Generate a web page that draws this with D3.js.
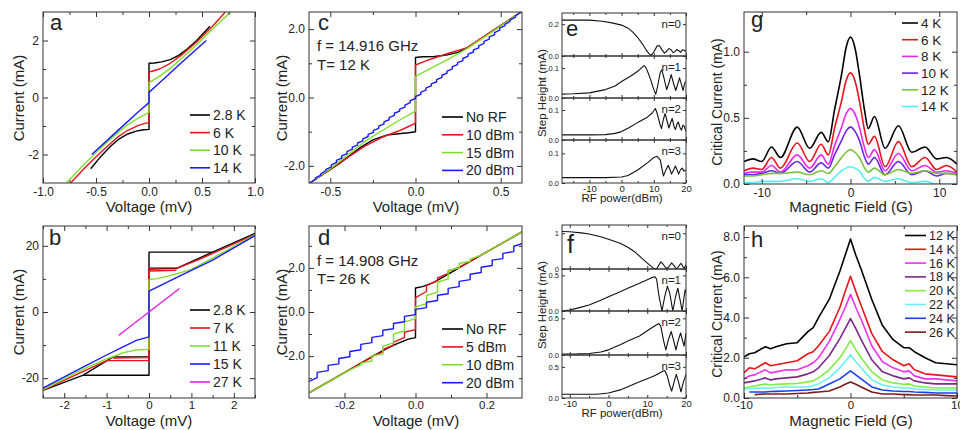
<!DOCTYPE html>
<html>
<head>
<meta charset="utf-8">
<script src="https://cdn.jsdelivr.net/npm/d3@7"></script>
<style>
body { margin: 0; background: #fff; }
svg text { font-family: Arial, "Liberation Sans", Helvetica, sans-serif; fill: #222; }
</style>
</head>
<body>
<svg id="chart" width="960" height="430"></svg>
<script>
// ---------- panel a : I-V at several temperatures (mV, mA) ----------
var aNames = ["2.8 K", "6 K", "10 K", "14 K"];
var aK28 = [[-0.55,-2.5],[-0.45,-2.05],[-0.36,-1.7],[-0.28,-1.45],[-0.2,-1.28],[-0.12,-1.18],[-0.05,-1.13],[0,-1.12],
            [0,1.2],[0.05,1.21],[0.12,1.25],[0.2,1.33],[0.28,1.48],[0.36,1.7],[0.45,2.0],[0.575,2.5]];
var aK6  = [[-0.74,-3],[-0.6,-2.45],[-0.45,-1.9],[-0.3,-1.4],[-0.2,-1.15],[-0.1,-0.98],[-0.03,-0.9],[0,-0.88],
            [0,0.9],[0.03,0.92],[0.1,1.0],[0.2,1.2],[0.3,1.47],[0.45,1.95],[0.6,2.5],[0.72,3]];
var aK10 = [[-0.78,-3],[-0.6,-2.3],[-0.45,-1.75],[-0.3,-1.25],[-0.2,-0.95],[-0.1,-0.72],[0,-0.52],
            [0,0.52],[0.1,0.75],[0.2,1.02],[0.3,1.35],[0.45,1.85],[0.6,2.4],[0.77,3]];
var aK14 = [[-0.54,-2],[-0.3,-1.18],[-0.1,-0.5],[0,-0.18],[0,0.18],[0.1,0.52],[0.3,1.2],[0.54,2]];
var aXTicks = [-1, -0.5, 0, 0.5, 1], aXLabels = ["-1.0", "-0.5", "0.0", "0.5", "1.0"];
var aYTicks = [-2, 0, 2], aYLabels = ["-2", "0", "2"];

// ---------- panel b ----------
var bNames = ["2.8 K", "7 K", "11 K", "15 K", "27 K"];
var bK28  = [[-2.5,-23.7],[-1.55,-19.1],[0,-19.1],[0,18.1],[1.5,18.1],[2.5,23.8]];
var bK28r = [[1.5,18.1],[0.65,13.2],[0,13],[0,-13.5],[-0.85,-13.6],[-1.55,-19.1]];
var bK7   = [[-2.5,-23.6],[-1.0,-14.7],[0,-14.7],[0,13.3],[0.7,13.4],[1.2,16],[2.5,23.4]];
var bK7r  = [[0.65,12.6],[0,12.4],[0,-13.8],[-0.85,-13.9]];
var bK11  = [[-2.5,-23.5],[-1.5,-17],[-1,-14.2],[-0.6,-12.3],[-0.3,-11.5],[0,-11.3],
             [0,9.8],[0.2,10.1],[0.5,11],[1,12.9],[1.5,16.3],[2.5,23.3]];
var bK15  = [[-2.5,-23],[-1.5,-16.3],[-1,-13],[-0.6,-10.5],[-0.3,-8.6],[0,-7.5],
             [0,6.3],[0.3,8.2],[0.73,10.9],[1.5,15.7],[2.5,23.1]];
var bK27  = [[-0.72,-7.1],[0.72,7.1]];
var bXTicks = [-2, -1, 0, 1, 2], bXLabels = ["-2", "-1", "0", "1", "2"];
var bYTicks = [-20, 0, 20], bYLabels = ["-20", "0", "20"];

// ---------- panel c : RF, f = 14.916 GHz, T = 12 K ----------
var cNames = ["No RF", "10 dBm", "15 dBm", "20 dBm"];
var cNoRF = [[-0.62,-2.5],[-0.45,-1.94],[-0.32,-1.45],[-0.25,-1.24],[-0.17,-1.1],[-0.1,-1.06],[-0.04,-1.03],[0,-1.0],
             [0,1.17],[0.04,1.19],[0.11,1.2],[0.18,1.24],[0.25,1.32],[0.32,1.5],[0.45,1.94],[0.62,2.5]];
var c10 = [[-0.62,-2.5],[-0.45,-1.93],[-0.3,-1.43],[-0.2,-1.17],[-0.1,-0.98],[-0.05,-0.87],[0,-0.75],
           [0,0.95],[0.05,1.05],[0.1,1.14],[0.2,1.3],[0.3,1.45],[0.45,1.94],[0.62,2.5]];
var c15 = [[-0.62,-2.5],[-0.5,-2.08],[-0.4,-1.68],[-0.3,-1.3],[-0.2,-0.98],[-0.1,-0.68],[0,-0.4],
           [0,0.62],[0.1,0.88],[0.2,1.14],[0.3,1.42],[0.45,1.92],[0.62,2.5]];
// 20 dBm Shapiro staircase: [voltage, current at foot of step, current at top of step]
var c20Start = [-0.62, -2.5], c20End = [0.62, 2.5];
var c20Steps = [
  [-0.587,-2.39,-2.35],[-0.556,-2.27,-2.23],[-0.525,-2.14,-2.10],[-0.494,-2.03,-1.97],[-0.464,-1.90,-1.84],
  [-0.433,-1.77,-1.71],[-0.402,-1.64,-1.58],[-0.371,-1.51,-1.45],[-0.340,-1.39,-1.33],[-0.309,-1.27,-1.21],
  [-0.278,-1.14,-1.08],[-0.247,-1.02,-0.96],[-0.216,-0.90,-0.84],[-0.185,-0.77,-0.71],[-0.155,-0.65,-0.59],
  [-0.124,-0.52,-0.46],[-0.093,-0.40,-0.34],[-0.062,-0.28,-0.22],[-0.031,-0.15,-0.09],[0,-0.03,0.03],
  [0.031,0.09,0.15],[0.062,0.22,0.28],[0.093,0.34,0.40],[0.124,0.46,0.52],[0.155,0.59,0.65],
  [0.185,0.71,0.77],[0.216,0.84,0.90],[0.247,0.96,1.02],[0.278,1.08,1.14],[0.309,1.21,1.27],
  [0.340,1.33,1.39],[0.371,1.45,1.51],[0.402,1.58,1.64],[0.433,1.71,1.77],[0.464,1.84,1.90],
  [0.494,1.97,2.03],[0.525,2.10,2.14],[0.556,2.23,2.27],[0.587,2.35,2.39]];
var cXTicks = [-0.5, 0, 0.5], cXLabels = ["-0.5", "0.0", "0.5"];
var cYTicks = [-2, 0, 2], cYLabels = ["-2.0", "0.0", "2.0"];

// ---------- panel d : RF, f = 14.908 GHz, T = 26 K ----------
var dNames = ["No RF", "5 dBm", "10 dBm", "20 dBm"];
var dNoRF = [[-0.3,-3.67],[-0.2,-2.75],[-0.12,-2.0],[-0.08,-1.65],[-0.05,-1.42],[-0.02,-1.23],[0,-1.16],
             [0,1.09],[0.02,1.15],[0.05,1.33],[0.08,1.6],[0.12,1.98],[0.2,2.72],[0.3,3.63]];
var d5 = [[-0.3,-3.67],[-0.123,-2.05],[-0.123,-2.0],[-0.092,-1.82],[-0.092,-1.7],[-0.062,-1.5],[-0.062,-1.38],
          [-0.031,-1.15],[-0.031,-0.92],[0,-0.8],[0,0.65],[0.031,0.93],[0.031,1.2],[0.062,1.42],[0.062,1.55],
          [0.092,1.75],[0.092,1.85],[0.123,2.02],[0.3,3.63]];
var d10 = [[-0.3,-3.67],[-0.185,-2.62],[-0.154,-2.4],[-0.154,-2.32],[-0.123,-2.22],[-0.123,-2.0],[-0.092,-1.9],
           [-0.092,-1.55],[-0.062,-1.4],[-0.062,-1.0],[-0.031,-0.85],[-0.031,-0.45],[0,-0.3],[0,0.23],
           [0.031,0.38],[0.031,0.75],[0.062,0.9],[0.062,1.35],[0.092,1.5],[0.092,1.88],[0.123,2.0],[0.123,2.2],
           [0.154,2.3],[0.154,2.4],[0.185,2.58],[0.3,3.63]];
var d20Start = [-0.3, -3.15], d20End = [0.3, 3.1];
var d20Steps = [
  [-0.277,-2.98,-2.74],[-0.246,-2.66,-2.42],[-0.216,-2.35,-2.11],[-0.185,-2.03,-1.79],[-0.154,-1.71,-1.47],
  [-0.123,-1.39,-1.15],[-0.092,-1.07,-0.83],[-0.062,-0.76,-0.52],[-0.031,-0.44,-0.20],[0,-0.12,0.12],
  [0.031,0.20,0.44],[0.062,0.52,0.76],[0.092,0.83,1.07],[0.123,1.15,1.39],[0.154,1.47,1.71],
  [0.185,1.79,2.03],[0.216,2.11,2.35],[0.246,2.42,2.66],[0.277,2.74,2.98]];
var dXTicks = [-0.2, 0, 0.2], dXLabels = ["-0.2", "0.0", "0.2"];
var dYTicks = [-2, 0, 2], dYLabels = ["-2.0", "0.0", "2.0"];

// ---------- panel e : step height vs RF power (12 K) ----------
var eN0 = [[-18.5,0.225],[-15,0.226],[-10,0.225],[-6,0.218],[-3,0.208],[0,0.194],[2,0.175],[3.5,0.15],[5,0.116],
           [6.5,0.075],[7.5,0.042],[8.5,0.015],[9.2,0.004],[10,0.025],[11,0.062],[11.7,0.066],[12.5,0.04],
           [13.3,0.018],[14,0.03],[14.7,0.047],[15.3,0.04],[16,0.022],[16.5,0.025],[17.1,0.04],[17.7,0.035],
           [18.3,0.023],[19,0.04],[19.5,0.035],[20,0.028]];
var eN1 = [[-18.5,0.013],[-15,0.014],[-10,0.017],[-5,0.028],[-2,0.04],[0,0.055],[3,0.074],[5,0.089],[6.5,0.104],
           [7,0.108],[7.5,0.102],[8.2,0.085],[9,0.062],[10,0.028],[10.6,0.012],[11.2,0.04],[12,0.085],[12.5,0.094],
           [13.2,0.065],[14,0.028],[14.7,0.05],[15.4,0.078],[16.1,0.05],[16.8,0.025],[17.4,0.045],[18,0.067],
           [18.6,0.045],[19.1,0.025],[19.6,0.05],[20,0.055]];
var eN2 = [[-18.5,0.017],[-10,0.017],[-5,0.018],[-2,0.022],[0,0.028],[2,0.039],[5,0.058],[8,0.076],[9.5,0.09],
           [10.5,0.105],[11,0.09],[12,0.05],[12.4,0.038],[13,0.07],[13.5,0.088],[14.2,0.06],[14.7,0.04],[15.3,0.06],
           [15.7,0.072],[16.3,0.045],[16.7,0.035],[17.3,0.055],[17.6,0.06],[18.2,0.04],[18.6,0.033],[19.1,0.05],
           [19.5,0.045],[20,0.028]];
var eN3 = [[-18.5,0.018],[-10,0.018],[-5,0.018],[0,0.02],[2,0.025],[5,0.044],[8,0.068],[10,0.086],[11,0.09],
           [12,0.078],[12.5,0.05],[13,0.024],[13.8,0.045],[14.5,0.06],[15,0.045],[15.5,0.03],[16.2,0.045],
           [16.7,0.057],[17.2,0.045],[17.7,0.03],[18.3,0.045],[18.8,0.05],[19.4,0.04],[20,0.044]];
var eYTicks = [[0, 0.2], [0, 0.1], [0, 0.1], [0, 0.1]];
var eYLabels = [["0.0", "0.2"], ["0.0", "0.1"], ["0.0", "0.1"], ["0.0", "0.1"]];
var eXTicks = [-10, 0, 10, 20], eXLabels = ["-10", "0", "10", "20"];

// ---------- panel f : step height vs RF power (26 K) ----------
var fN0 = [[-12,1.05],[-10,1.04],[-7,1.01],[-5,0.98],[-2,0.9],[0,0.83],[3,0.72],[5,0.61],[7,0.46],[9,0.26],
           [10.5,0.12],[11.5,0.03],[12,0],[12.5,0.02],[13.5,0.2],[14.2,0.12],[15,0.0],[15.5,0.05],[16.3,0.17],
           [17,0.08],[17.5,0.0],[18,0.06],[18.7,0.16],[19.3,0.05],[19.6,0.03],[20,0.12]];
var fN1 = [[-12,0.0],[-10,0.014],[-8,0.04],[-5,0.085],[-2,0.15],[0,0.2],[3,0.27],[5,0.32],[8,0.39],[10,0.44],
           [11,0.465],[12,0.48],[12.4,0.45],[13,0.22],[13.8,0.0],[14.5,0.2],[15.2,0.35],[15.8,0.25],[16.6,0.0],
           [17.3,0.2],[17.9,0.32],[18.5,0.15],[19,0.0],[19.5,0.2],[19.8,0.3],[20,0.26]];
var fN2 = [[-12,0.014],[-8,0.015],[-5,0.02],[-2,0.04],[0,0.07],[3,0.14],[5,0.19],[8,0.26],[10,0.33],[12,0.40],
           [13,0.43],[13.5,0.39],[14.2,0.2],[14.8,0.07],[15.4,0.2],[16.2,0.32],[16.8,0.2],[17.4,0.07],[18,0.2],
           [18.6,0.3],[19.2,0.18],[19.5,0.12],[20,0.3]];
var fN3 = [[-12,0.06],[-8,0.06],[-5,0.06],[-3,0.06],[0,0.08],[3,0.13],[5,0.18],[8,0.26],[10,0.31],[12,0.36],
           [14,0.43],[14.5,0.44],[15.2,0.35],[15.8,0.2],[16.3,0.11],[16.9,0.25],[17.5,0.38],[18.1,0.25],
           [18.7,0.1],[19.3,0.25],[20,0.38]];
var fYTicks = [[0, 1], [0, 0.5], [0, 0.5], [0, 0.5]];
var fYLabels = [["0", "1"], ["0.0", "0.5"], ["0.0", "0.5"], ["0.0", "0.5"]];
var fXTicks = [-10, 0, 10, 20], fXLabels = ["-10", "0", "10", "20"];
var stepNames = ["n=0", "n=1", "n=2", "n=3"];

// ---------- panel g : critical current vs field ----------
var gNames = ["4 K", "6 K", "8 K", "10 K", "12 K", "14 K"];
var gField = [-12,-11,-10,-8.9,-7.9,-6,-4.6,-3.3,-2.5,-1.8,-1,-0.5,0,0.5,1,1.6,2,2.7,3.9,5.4,6.9,8.4,9.7,10.8,12];
var g4K  = [0.17,0.19,0.17,0.28,0.2,0.43,0.27,0.39,0.32,0.56,0.83,1.03,1.11,1.03,0.83,0.55,0.42,0.51,0.27,0.44,0.24,0.28,0.19,0.2,0.15];
var g6K  = [0.1,0.12,0.11,0.2,0.12,0.31,0.17,0.3,0.22,0.42,0.63,0.78,0.84,0.78,0.63,0.4,0.3,0.36,0.13,0.32,0.13,0.2,0.11,0.14,0.09];
var g8K  = [0.08,0.09,0.09,0.14,0.09,0.22,0.12,0.22,0.15,0.29,0.43,0.53,0.57,0.53,0.43,0.27,0.2,0.26,0.1,0.23,0.1,0.14,0.09,0.1,0.08];
var g10K = [0.07,0.07,0.08,0.1,0.08,0.17,0.09,0.16,0.12,0.22,0.33,0.4,0.43,0.4,0.33,0.2,0.15,0.2,0.07,0.17,0.07,0.1,0.06,0.08,0.07];
var g12K = [0.06,0.06,0.07,0.08,0.08,0.09,0.07,0.1,0.08,0.13,0.2,0.24,0.26,0.24,0.2,0.12,0.09,0.12,0.07,0.11,0.08,0.1,0.08,0.08,0.07];
var g14K = [0.01,0.01,0.02,0.02,0.02,0.04,0.02,0.04,0.01,0.05,0.1,0.12,0.13,0.12,0.1,0.04,0.02,0.05,0.02,0.04,0.01,0.02,0.0,0.0,0.0];
var gXTicks = [-10, 0, 10], gXLabels = ["-10", "0", "10"];
var gYTicks = [0, 0.5, 1], gYLabels = ["0.0", "0.5", "1.0"];

// ---------- panel h ----------
var hNames = ["12 K", "14 K", "16 K", "18 K", "20 K", "22 K", "24 K", "26 K"];
var hField = [-10,-9.5,-9,-8,-7.5,-7,-6,-5,-4,-3.5,-3,-2,-1,-0.5,0,0.5,1,2,3,4,5,5.5,6,7,8,9,10];
var h12K = [2.04,2.2,2.25,2.55,2.45,2.55,2.7,2.75,3.3,3.5,4.0,4.9,6.3,7.1,7.9,7.1,6.4,4.9,3.6,2.9,2.5,2.5,2.3,2.0,1.75,1.7,1.65];
var h14K = [1.25,1.5,1.45,1.75,1.6,1.65,1.75,1.85,2.2,2.3,2.6,3.3,4.5,5.3,6.05,5.3,4.6,3.2,2.3,1.9,1.6,1.7,1.4,1.2,1.15,1.1,1.05];
var h16K = [0.95,1.1,1.15,1.4,1.25,1.3,1.4,1.4,1.6,1.75,2.0,2.8,3.9,4.5,5.15,4.5,3.9,2.6,1.8,1.5,1.3,1.35,1.1,0.95,0.95,0.9,0.85];
var h18K = [0.75,0.8,0.85,1.0,0.9,0.95,1.0,1.05,1.2,1.3,1.5,2.1,2.95,3.45,3.95,3.45,2.9,1.9,1.3,1.1,0.95,1.0,0.85,0.75,0.7,0.7,0.7];
var h20K = [0.5,0.55,0.6,0.7,0.65,0.68,0.7,0.72,0.8,0.85,1.0,1.4,2.0,2.4,2.85,2.4,2.0,1.3,0.9,0.75,0.68,0.7,0.6,0.55,0.5,0.5,0.5];
var h22K = [0.45,0.45,0.48,0.5,0.5,0.52,0.55,0.55,0.55,0.62,0.7,1.0,1.5,1.8,2.15,1.8,1.5,0.9,0.65,0.55,0.5,0.5,0.45,0.42,0.4,0.4,0.4];
var h24K = [null,0.3,0.3,0.3,0.32,0.33,0.35,0.37,0.4,0.42,0.45,0.7,0.95,1.15,1.35,1.15,0.95,0.55,0.4,0.35,0.32,0.32,0.3,0.28,0.25,0.25,0.25];
var h26K = [null,null,0.17,0.2,0.2,0.2,0.2,0.22,0.25,0.28,0.3,0.35,0.55,0.68,0.8,0.68,0.55,0.3,0.2,0.2,0.17,0.17,0.15,0.15,0.15,0.12,0.1];
var hXTicks = [-10, 0, 10], hXLabels = ["-10", "0", "10"];
var hYTicks = [0, 2, 4, 6, 8], hYLabels = ["0.0", "2.0", "4.0", "6.0", "8.0"];

// ================= drawing =================
var svg = d3.select("#chart");
var BLACK = "#000000", RED = "#e8141c", LIME = "#7ce02a", BLUE = "#1a1aff", MAGENTA = "#e020e0";

function panel(o) {
    var w = o.x1 - o.x0, h = o.y1 - o.y0;
    var g = svg.append("g").attr("transform", "translate(" + o.x0 + "," + o.y0 + ")");
    var x = d3.scaleLinear().domain(o.xDomain).range([0, w]);
    var y = d3.scaleLinear().domain(o.yDomain).range([h, 0]);
    g.append("clipPath").attr("id", "clip-" + o.id).append("rect").attr("width", w).attr("height", h);
    var plot = g.append("g").attr("clip-path", "url(#clip-" + o.id + ")");
    var tl = o.tick || 5, ml = o.minor || 3;

    function ax(gen, scale, vals, size, labels, pad, fs, tr) {
        if (!vals || !vals.length) return;
        var a = gen(scale).tickValues(vals).tickSize(-size).tickPadding(pad)
            .tickFormat(labels ? function(d, i) { return labels[i]; } : "");
        var s = g.append("g").attr("transform", tr || null).call(a);
        s.select(".domain").remove();
        s.attr("font-size", fs).attr("font-family", null).style("color", "#333");
    }
    var bt = "translate(0," + h + ")", rt = "translate(" + w + ",0)";
    ax(d3.axisBottom, x, o.xTicks, tl, o.showX === false ? null : o.xLabels, o.xPad, o.xfs, bt);
    ax(d3.axisBottom, x, o.xMinor, ml, null, 0, o.xfs, bt);
    ax(d3.axisTop, x, o.xTicks, tl, null, 0, o.xfs);
    ax(d3.axisTop, x, o.xMinor, ml, null, 0, o.xfs);
    ax(d3.axisLeft, y, o.yTicks, tl, o.yLabels, o.yPad, o.yfs);
    ax(d3.axisLeft, y, o.yMinor, ml, null, 0, o.yfs);
    ax(d3.axisRight, y, o.yTicks, tl, null, 0, o.yfs, rt);
    ax(d3.axisRight, y, o.yMinor, ml, null, 0, o.yfs, rt);

    g.append("rect").attr("width", w).attr("height", h)
        .attr("fill", "none").attr("stroke", "#333").attr("stroke-width", 1);
    return {g: g, plot: plot, x: x, y: y, w: w, h: h};
}

function draw(p, pts, color, width, curve) {
    var line = d3.line()
        .defined(function(d) { return d[1] != null; })
        .curve(curve || d3.curveLinear)
        .x(function(d) { return p.x(d[0]); })
        .y(function(d) { return p.y(d[1]); });
    p.plot.append("path").datum(pts)
        .attr("fill", "none").attr("stroke", color)
        .attr("stroke-width", width || 1.4).attr("stroke-linejoin", "round")
        .attr("d", line);
}

function stairs(start, steps, end) {
    var pts = [start];
    steps.forEach(function(s) { pts.push([s[0], s[1]]); pts.push([s[0], s[2]]); });
    pts.push(end);
    return pts;
}

function zip(xs, ys) {
    return xs.map(function(v, i) { return [v, ys[i]]; });
}

function text(str, x, y, size, anchor, rotate) {
    var t = svg.append("text").text(str).attr("font-size", size)
        .attr("text-anchor", anchor || "start");
    if (rotate) {
        t.attr("transform", "translate(" + x + "," + y + ") rotate(-90)").attr("dy", "0.35em");
    } else {
        t.attr("x", x).attr("y", y);
    }
    return t;
}

function legend(names, colors, lx0, lx1, tx, y0, dy, size, width) {
    names.forEach(function(n, i) {
        var yy = y0 + i * dy;
        svg.append("line").attr("x1", lx0).attr("x2", lx1).attr("y1", yy).attr("y2", yy)
            .attr("stroke", colors[i]).attr("stroke-width", width || 1.6);
        svg.append("text").text(n).attr("x", tx).attr("y", yy).attr("dy", "0.36em")
            .attr("font-size", size);
    });
}

// ---- a ----
var pa = panel({id: "a", x0: 43, y0: 12, x1: 255, y1: 183, xDomain: [-1, 1], yDomain: [-3, 3],
    xTicks: aXTicks, xLabels: aXLabels, xMinor: [-0.75, -0.25, 0.25, 0.75],
    yTicks: aYTicks, yLabels: aYLabels, yMinor: [-1, 1], xPad: 4, yPad: 4, xfs: 12, yfs: 12});
var aColors = [BLACK, RED, LIME, BLUE];
[aK28, aK6, aK10, aK14].forEach(function(s, i) { draw(pa, s, aColors[i]); });
legend(aNames, aColors, 190, 210, 213, 115, 17.6, 14);
text("a", 50, 30, 22);
text("Voltage (mV)", 149, 212, 15, "middle");
text("Current (mA)", 19, 98, 15, "middle", true);

// ---- b ----
var pb = panel({id: "b", x0: 43, y0: 226, x1: 255, y1: 398, xDomain: [-2.5, 2.5], yDomain: [-26, 26],
    xTicks: bXTicks, xLabels: bXLabels, xMinor: [-2.5, -1.5, -0.5, 0.5, 1.5, 2.5],
    yTicks: bYTicks, yLabels: bYLabels, yMinor: [-10, 10], xPad: 3, yPad: 4, xfs: 11.5, yfs: 12});
var bColors = [BLACK, RED, LIME, BLUE, MAGENTA];
draw(pb, bK28, BLACK); draw(pb, bK28r, BLACK);
draw(pb, bK7, RED); draw(pb, bK7r, RED);
draw(pb, bK11, LIME); draw(pb, bK15, BLUE); draw(pb, bK27, MAGENTA);
legend(bNames, bColors, 190, 210, 213, 310, 18, 14);
text("b", 49, 245, 22);
text("Voltage (mV)", 149, 426, 15, "middle");
text("Current (mA)", 19, 312, 15, "middle", true);

// ---- c ----
var pc = panel({id: "c", x0: 309, y0: 12, x1: 522, y1: 183, xDomain: [-0.625, 0.625], yDomain: [-2.5, 2.5],
    xTicks: cXTicks, xLabels: cXLabels, xMinor: [-0.25, 0.25],
    yTicks: cYTicks, yLabels: cYLabels, yMinor: [-1, 1], xPad: 4, yPad: 4, xfs: 12, yfs: 12});
var cColors = [BLACK, RED, LIME, BLUE];
draw(pc, cNoRF, BLACK); draw(pc, c10, RED); draw(pc, c15, LIME);
draw(pc, stairs(c20Start, c20Steps, c20End), BLUE);
legend(cNames, cColors, 442, 463, 466, 117, 17.8, 14);
text("c", 318, 30, 22);
text("f = 14.916 GHz", 317, 51, 15);
text("T= 12 K", 317, 70, 15);
text("Voltage (mV)", 416, 212, 15, "middle");
text("Current (mA)", 282, 98, 15, "middle", true);

// ---- d ----
var pd = panel({id: "d", x0: 309, y0: 226, x1: 522, y1: 398, xDomain: [-0.3, 0.3], yDomain: [-3.9, 3.9],
    xTicks: dXTicks, xLabels: dXLabels, xMinor: [-0.1, 0.1],
    yTicks: dYTicks, yLabels: dYLabels, yMinor: [-3, -1, 1, 3], xPad: 3, yPad: 4, xfs: 11.5, yfs: 12});
var dColors = [BLACK, RED, LIME, BLUE];
draw(pd, dNoRF, BLACK); draw(pd, d5, RED); draw(pd, d10, LIME);
draw(pd, stairs(d20Start, d20Steps, d20End), BLUE);
legend(dNames, dColors, 442, 463, 466, 329, 17.9, 14);
text("d", 318, 245, 22);
text("f = 14.908 GHz", 317, 266, 15);
text("T= 26 K", 317, 284, 15);
text("Voltage (mV)", 416, 426, 15, "middle");
text("Current (mA)", 282, 312, 15, "middle", true);

// ---- e / f : stacked step-height panels ----
function stack(id, x0, x1, tops, bottom, xDomain, xMinor, series, yDomains, yTicks, yLabels, xTicks, xLabels) {
    series.forEach(function(s, i) {
        var y0 = tops[i], y1 = (i < tops.length - 1) ? tops[i + 1] : bottom;
        var p = panel({id: id + i, x0: x0, y0: y0, x1: x1, y1: y1, xDomain: xDomain, yDomain: yDomains[i],
            xTicks: xTicks, xLabels: xLabels, showX: i === series.length - 1, xMinor: xMinor,
            yTicks: yTicks[i], yLabels: yLabels[i], tick: 3, minor: 2, xPad: 2, yPad: 3, xfs: 9.5, yfs: 7.5});
        draw(p, s, "#111", 1.1);
        text(stepNames[i], x1 - 5, y0 + 15, 11.5, "end");
    });
}
stack("e", 562, 686, [13, 56, 98, 140], 183, [-18.5, 20], [-15, -5, 5, 15],
      [eN0, eN1, eN2, eN3], [[0, 0.27], [0, 0.14], [0, 0.14], [0, 0.145]], eYTicks, eYLabels, eXTicks, eXLabels);
text("e", 566, 36, 22);
text("RF power(dBm)", 622, 202, 11.5, "middle");
text("Step Height (mA)", 542, 93, 11.5, "middle", true);

stack("f", 562, 686, [225, 269, 311, 355], 398, [-12, 20], [-5, 5, 15],
      [fN0, fN1, fN2, fN3], [[0, 1.23], [0, 0.59], [0, 0.6], [0, 0.69]], fYTicks, fYLabels, fXTicks, fXLabels);
text("f", 567, 253, 25);
text("RF power(dBm)", 622, 417, 11.5, "middle");
text("Step Height (mA)", 542, 305, 11.5, "middle", true);

// ---- g ----
var pg = panel({id: "g", x0: 744, y0: 12, x1: 957, y1: 184, xDomain: [-12, 12], yDomain: [0, 1.3],
    xTicks: gXTicks, xLabels: gXLabels, xMinor: [-5, 5],
    yTicks: gYTicks, yLabels: gYLabels, yMinor: [0.25, 0.75], xPad: 4, yPad: 4, xfs: 12, yfs: 12});
var gColors = [BLACK, RED, "#f025f0", "#6a22ee", "#78c23c", "#55eef0"];
[g4K, g6K, g8K, g10K, g12K, g14K].forEach(function(s, i) {
    draw(pg, zip(gField, s), gColors[i], 1.6, d3.curveMonotoneX);
});
legend(gNames, gColors, 902, 918, 921, 23, 16.7, 13.5);
text("g", 751, 27, 22);
text("Magnetic Field (G)", 851, 212, 15, "middle");
text("Critical Current (mA)", 717, 102, 14, "middle", true);

// ---- h ----
var ph = panel({id: "h", x0: 744, y0: 226, x1: 957, y1: 398, xDomain: [-10, 10], yDomain: [0, 8.55],
    xTicks: hXTicks, xLabels: hXLabels, xMinor: [-5, 5],
    yTicks: hYTicks, yLabels: hYLabels, yMinor: [1, 3, 5, 7], xPad: 3, yPad: 4, xfs: 11.5, yfs: 12});
var hColors = [BLACK, RED, "#f030f0", "#7a2a8c", "#80ee40", "#66f2f2", "#1840f0", "#7a1c1c"];
[h12K, h14K, h16K, h18K, h20K, h22K, h24K, h26K].forEach(function(s, i) {
    draw(ph, zip(hField, s), hColors[i], 1.6);
});
legend(hNames, hColors, 905, 926, 929, 235.5, 13.8, 12.5);
text("h", 751, 247, 22);
text("Magnetic Field (G)", 851, 426, 15, "middle");
text("Critical Current (mA)", 717, 314, 14, "middle", true);
</script>
</body>
</html>
